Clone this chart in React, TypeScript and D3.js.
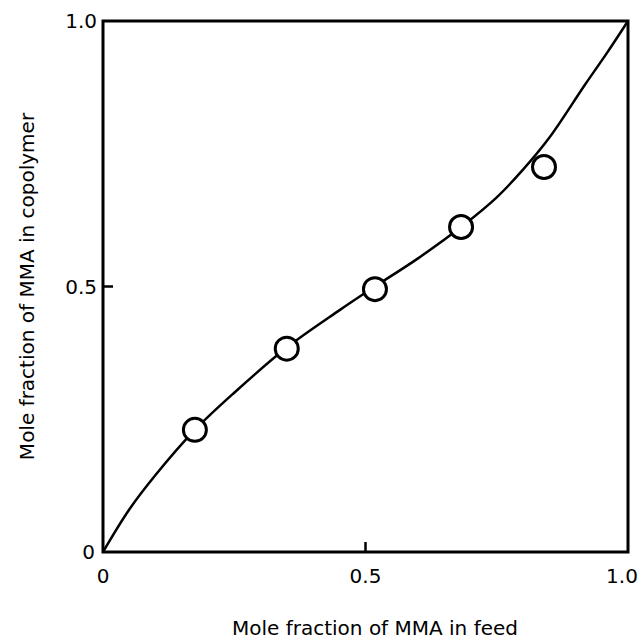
import React from "react";
import { scaleLinear, line, curveCatmullRom } from "d3";

const width = 641;
const height = 641;

const margin = { top: 21, right: 13, bottom: 89, left: 103 };
const innerWidth = width - margin.left - margin.right;
const innerHeight = height - margin.top - margin.bottom;

// measured copolymer composition
const feedFraction = [0.175, 0.35, 0.518, 0.682, 0.84];
const copolymerFraction = [0.23, 0.383, 0.495, 0.612, 0.725];

// drawn composition curve
const curveFeed = [0, 0.05, 0.1, 0.175, 0.25, 0.35, 0.45, 0.518, 0.6, 0.682, 0.75, 0.8, 0.85, 0.918, 0.96, 1.0];
const curveCopolymer = [0, 0.08, 0.145, 0.23, 0.3, 0.385, 0.455, 0.5, 0.553, 0.612, 0.668, 0.72, 0.78, 0.88, 0.94, 1.0];

const tickValues = [0, 0.5, 1];
const tickLabels = ["0", "0.5", "1.0"];

const font = "'DejaVu Sans', sans-serif";

export default function App() {
  const xScale = scaleLinear().domain([0, 1]).range([0, innerWidth]);
  const yScale = scaleLinear().domain([0, 1]).range([innerHeight, 0]);

  const curvePoints = curveFeed.map((f, i) => [f, curveCopolymer[i]] as [number, number]);
  const path = line<[number, number]>()
    .curve(curveCatmullRom)
    .x((d) => xScale(d[0]))
    .y((d) => yScale(d[1]))(curvePoints);

  return (
    <svg
      width={width}
      height={height}
      style={{ position: "absolute", left: 0, top: 0, background: "#fff" }}
    >
      <g transform={`translate(${margin.left}, ${margin.top})`}>
        {/* frame */}
        <rect
          x={0}
          y={0}
          width={innerWidth}
          height={innerHeight}
          fill="none"
          stroke="#000"
          strokeWidth={3}
        />

        {/* x axis */}
        {tickValues.map((t, i) => (
          <g key={"x" + t} transform={`translate(${xScale(t)}, 0)`}>
            {t > 0 && t < 1 && (
              <line y1={innerHeight} y2={innerHeight - 10} stroke="#000" strokeWidth={2.5} />
            )}
            <text
              x={t === 1 ? -6 : 0}
              y={innerHeight + 31}
              textAnchor="middle"
              fontFamily={font}
              fontSize={20}
              fill="#000"
            >
              {tickLabels[i]}
            </text>
          </g>
        ))}

        {/* y axis */}
        {tickValues.map((t, i) => (
          <g key={"y" + t} transform={`translate(0, ${yScale(t)})`}>
            {t > 0 && t < 1 && <line x2={10} stroke="#000" strokeWidth={2.5} />}
            <text
              x={t === 0 ? -8 : -6}
              dy="0.36em"
              textAnchor="end"
              fontFamily={font}
              fontSize={20}
              fill="#000"
            >
              {tickLabels[i]}
            </text>
          </g>
        ))}

        {/* curve */}
        <path d={path || ""} fill="none" stroke="#000" strokeWidth={2.5} />

        {/* points */}
        {feedFraction.map((f, i) => (
          <circle
            key={i}
            cx={xScale(f)}
            cy={yScale(copolymerFraction[i])}
            r={11.5}
            fill="#fff"
            stroke="#000"
            strokeWidth={3}
          />
        ))}
      </g>

      {/* axis titles */}
      <text
        x={375}
        y={635}
        textAnchor="middle"
        fontFamily={font}
        fontSize={20}
        fill="#000"
      >
        Mole fraction of MMA in feed
      </text>
      <text
        transform={`translate(34, ${margin.top + innerHeight / 2}) rotate(-90)`}
        textAnchor="middle"
        fontFamily={font}
        fontSize={20}
        fill="#000"
      >
        Mole fraction of MMA in copolymer
      </text>
    </svg>
  );
}
